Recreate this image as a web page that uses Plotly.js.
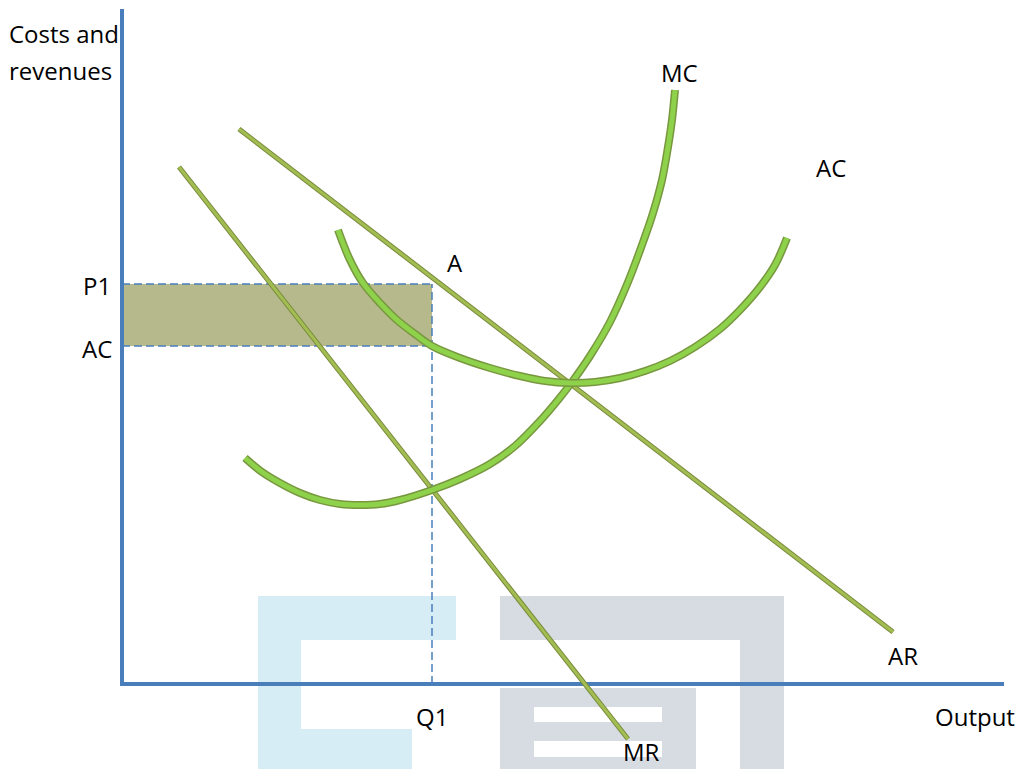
<!DOCTYPE html>
<html>
<head>
<meta charset="utf-8">
<script src="https://cdn.plot.ly/plotly-3.0.1.min.js"></script>
<style>
  html, body { margin: 0; padding: 0; background: #fff; }
  #chart { width: 1023px; height: 769px; }
</style>
</head>
<body>
<div id="chart"></div>
<script>
// Monopoly profit diagram: output on x, costs / revenues on y

// Marginal cost curve
const mcX = [12.3, 14.0, 15.8, 17.8, 19.8, 21.8, 23.8, 25.8, 27.8, 31.0, 33.8, 36.8, 39.3,
             41.8, 43.6, 45.0, 46.8, 48.8, 50.6, 52.0, 53.1, 54.0, 54.6, 55.0, 55.3];
const mcY = [22.6, 21.2, 20.1, 19.1, 18.4, 18.0, 17.9, 18.0, 18.4, 19.4, 20.5, 22.0, 23.8,
             26.3, 28.4, 30.2, 32.8, 36.2, 40.2, 43.9, 47.1, 50.4, 53.7, 56.4, 59.4];

// Average cost curve
const acX = [21.6, 22.8, 24.1, 25.8, 27.5, 29.3, 31.0, 33.8, 36.8, 39.8, 42.3,
             44.8, 47.3, 49.8, 52.3, 54.8, 57.3, 59.8, 61.8, 63.8, 65.3, 66.5];
const acY = [45.4, 42.4, 40.1, 38.1, 36.4, 35.0, 33.8, 32.6, 31.6, 30.8, 30.3,
             30.1, 30.2, 30.6, 31.3, 32.3, 33.7, 35.5, 37.4, 39.7, 41.9, 44.6];

// Average revenue (demand) and marginal revenue lines
const arX = [11.7, 77.1];
const arY = [55.5, 5.2];
const mrX = [5.7, 50.6];
const mrY = [51.7, -5.5];

// Profit maximising point
const q1 = 31.0;
const p1 = 40.0;
const acAtQ1 = 33.8;

const axisBlue = "#4a7ebb";

function curve(x, y, spline, thick) {
  const shape = spline ? "spline" : "linear";
  const outer = thick ? 8 : 5;
  const inner = thick ? 5 : 3;
  return [
    {
      x: x, y: y, type: "scatter", mode: "lines", hoverinfo: "skip",
      line: { color: thick ? "#78973f" : "#7a8a3c", width: outer, shape: shape, smoothing: 1 },
    },
    {
      x: x, y: y, type: "scatter", mode: "lines", hoverinfo: "skip",
      line: { color: thick ? "#8ed24b" : "#a2be52", width: inner, shape: shape, smoothing: 1 },
    },
  ];
}

// watermark blocks, given in page pixels
function block(x0, y0, x1, y1, color) {
  return {
    type: "rect", xref: "paper", yref: "paper", layer: "below",
    x0: x0 / 1023, x1: x1 / 1023, y0: 1 - y0 / 769, y1: 1 - y1 / 769,
    fillcolor: color, line: { width: 0 },
  };
}

const lightBlue = "#d7edf6";
const grey = "#d6dce1";

const shapes = [
  block(258, 596, 456, 640, lightBlue),
  block(258, 596, 301, 769, lightBlue),
  block(258, 729, 412, 769, lightBlue),
  block(500, 596, 784, 640, grey),
  block(740, 596, 784, 769, grey),
  block(500, 688, 696, 769, grey),
  block(534, 707, 662, 722, "#ffffff"),
  block(534, 741, 662, 757, "#ffffff"),
  // profit rectangle
  {
    type: "rect", layer: "below", x0: 0.2, x1: q1, y0: acAtQ1, y1: p1,
    fillcolor: "#b6b98c", line: { width: 0 },
  },
  // dashed guides
  { type: "line", layer: "below", x0: 0, x1: q1, y0: p1, y1: p1, line: { color: axisBlue, width: 1.5, dash: "8px,4px" } },
  { type: "line", layer: "below", x0: 0, x1: q1, y0: acAtQ1, y1: acAtQ1, line: { color: axisBlue, width: 1.5, dash: "8px,4px" } },
  { type: "line", layer: "below", x0: q1, x1: q1, y0: 0, y1: p1, line: { color: axisBlue, width: 1.5, dash: "8px,4px" } },
  // axes
  { type: "line", layer: "below", x0: 0, x1: 0, y0: -0.2, y1: 67.5, line: { color: axisBlue, width: 4 } },
  { type: "line", layer: "below", x0: 0, x1: 88.2, y0: 0, y1: 0, line: { color: axisBlue, width: 4 } },
];

const font = { family: "'Open Sans', Lato, sans-serif", size: 24, color: "#000" };

function label(text, x, y, anchor) {
  return {
    text: text, x: x, y: y, xref: "x", yref: "y", showarrow: false,
    xanchor: anchor || "center", yanchor: "middle", font: font,
  };
}

const annotations = [
  label("Costs and", -11.5, 65.1, "left"),
  label("revenues", -11.5, 61.4, "left"),
  label("MC", 55.7, 61.2),
  label("AC", 70.9, 51.7),
  label("A", 33.3, 42.2),
  label("P1", -0.9, 39.9, "right"),
  label("AC", -0.8, 33.6, "right"),
  label("Q1", q1, -3.2),
  label("MR", 51.9, -6.75),
  label("AR", 78.1, 2.9),
  label("Output", 85.3, -3.2),
];

const traces = [].concat(
  curve(arX, arY, false, false),
  curve(mrX, mrY, false, false),
  curve(mcX, mcY, true, true),
  curve(acX, acY, true, true)
);

Plotly.newPlot(
  "chart",
  traces,
  {
    width: 1023,
    height: 769,
    margin: { l: 0, r: 0, t: 0, b: 0 },
    paper_bgcolor: "#ffffff",
    plot_bgcolor: "#ffffff",
    showlegend: false,
    xaxis: { range: [-12.2, 90.1], visible: false, fixedrange: true },
    yaxis: { range: [-8.5, 68.4], visible: false, fixedrange: true },
    shapes: shapes,
    annotations: annotations,
  },
  { displayModeBar: false, staticPlot: true }
);
</script>
</body>
</html>
